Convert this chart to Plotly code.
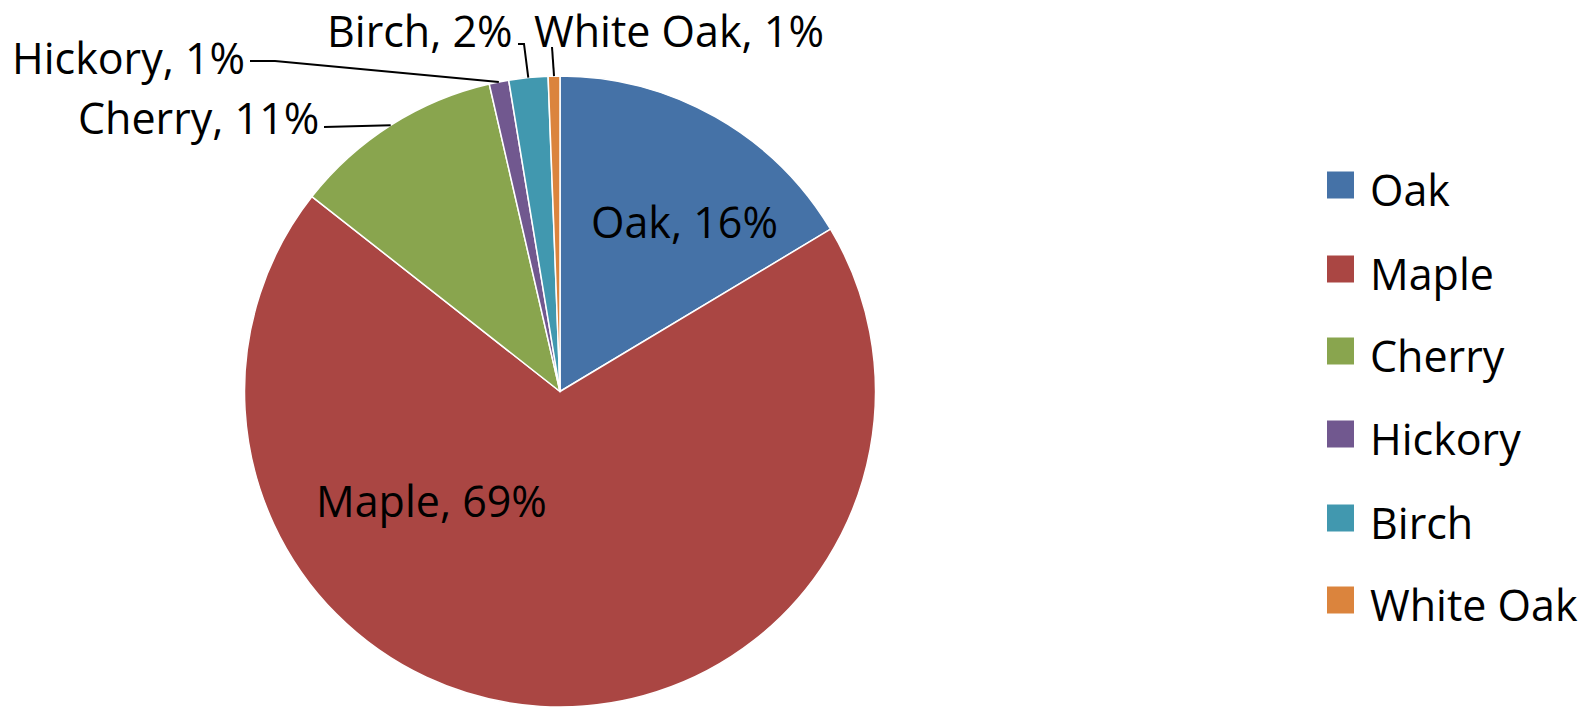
import math
import plotly.graph_objects as go

# ---- data ----
labels = ["Oak", "Maple", "Cherry", "Hickory", "Birch", "White Oak"]
values = [16.4, 69.2, 10.8, 1.0, 2.0, 0.6]
colors = ["#4572A7", "#AA4643", "#89A54E", "#71588F", "#4198AF", "#DB843D"]

# ---- layout constants (pixels) ----
W, H = 1587, 707
CX, CY, R = 560, 392, 316
FONT = "Open Sans, Lato, DejaVu Sans, sans-serif"
FS = 43

def px(x, y):
    return x / W, 1 - y / H

total = sum(values)
texts = [f"{l}, {round(v / total * 100)}%" for l, v in zip(labels, values)]

# mid-angle arc points (from data)
arc = []
cum = 0
for v in values:
    th = 2 * math.pi * (cum + v / 2) / total
    arc.append((CX + R * math.sin(th), CY - R * math.cos(th)))
    cum += v

fig = go.Figure(go.Pie(
    labels=labels, values=values, sort=False, direction="clockwise", rotation=0,
    marker=dict(colors=colors, line=dict(color="white", width=1.5)),
    textinfo="none", hoverinfo="label+percent", showlegend=False,
    domain=dict(x=[(CX - R) / W, (CX + R) / W], y=[max(0, 1 - (CY + R) / H), 1 - (CY - R) / H]),
))

annotations = []
shapes = []

# label placement: (x, y, xanchor)
label_pos = {
    "Oak": (684, 222, "center"),
    "Maple": (431, 500, "center"),
    "Cherry": (321, 118, "right"),
    "Hickory": (247, 57, "right"),
    "Birch": (515, 31, "right"),
    "White Oak": (532, 31, "left"),
}
# leader line start points (elbow) per outside label
leaders = {
    "Cherry": [(324, 127)],
    "Hickory": [(250, 61), (275, 61)],
    "Birch": [(518, 44), (524, 44)],
    "White Oak": [(552, 47)],
}

for i, lab in enumerate(labels):
    x, y, xa = label_pos[lab]
    ax_, ay_ = px(x, y)
    annotations.append(dict(
        x=ax_, y=ay_, xref="paper", yref="paper", xanchor=xa, yanchor="middle",
        text=texts[i], showarrow=False, font=dict(family=FONT, size=FS, color="black"),
    ))
    if lab in leaders:
        pts = leaders[lab] + [arc[i]]
        path = ""
        for k, (qx, qy) in enumerate(pts):
            sx, sy = px(qx, qy)
            path += ("M" if k == 0 else " L") + f" {sx:.5f},{sy:.5f}"
        shapes.append(dict(type="path", path=path, xref="paper", yref="paper",
                           line=dict(color="black", width=2)))

# manual legend
leg_x0, leg_x1, sq = 1327, 1354, 27
leg_y = [185, 269, 351, 434, 518, 600]
for i, lab in enumerate(labels):
    yc = leg_y[i]
    x0, y0 = px(leg_x0, yc + sq / 2)
    x1, y1 = px(leg_x1, yc - sq / 2)
    shapes.append(dict(type="rect", xref="paper", yref="paper", x0=x0, x1=x1, y0=y0, y1=y1,
                       fillcolor=colors[i], line=dict(width=0)))
    tx, ty = px(1368, yc + 4)
    annotations.append(dict(x=tx, y=ty, xref="paper", yref="paper", xanchor="left",
                            yanchor="middle", text=lab, showarrow=False,
                            font=dict(family=FONT, size=FS, color="black")))

fig.update_layout(
    width=W, height=H, margin=dict(l=0, r=0, t=0, b=0),
    paper_bgcolor="white", plot_bgcolor="white",
    annotations=annotations, shapes=shapes, showlegend=False,
)
fig.write_html("out.html")
